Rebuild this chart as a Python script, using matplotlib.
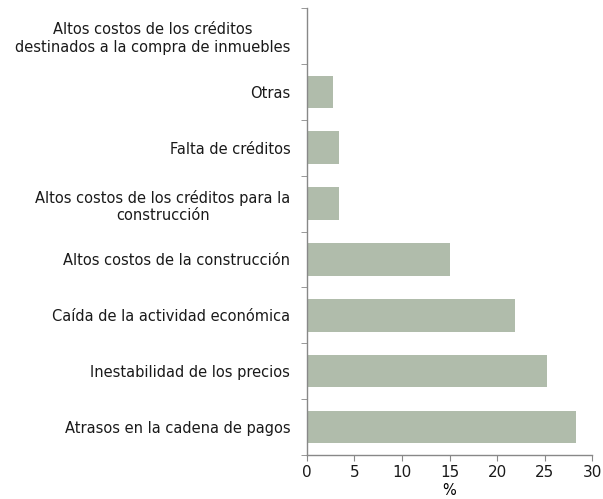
import matplotlib
matplotlib.use('Agg')
import matplotlib.pyplot as plt
import numpy as np

## data (bottom to top)
categorias = ['Atrasos en la cadena de pagos',
              'Inestabilidad de los precios',
              'Caída de la actividad económica',
              'Altos costos de la construcción',
              'Altos costos de los créditos para la\nconstrucción',
              'Falta de créditos',
              'Otras',
              'Altos costos de los créditos\ndestinados a la compra de inmuebles']
valores = [28.3, 25.3, 21.9, 15.1, 3.4, 3.4, 2.7, 0.0]
xticks = [0, 5, 10, 15, 20, 25, 30]

plt.rcParams['font.family'] = ['DejaVu Sans']
fig = plt.figure(figsize=(6.03, 4.99), dpi=100)
ax = fig.add_axes([0.509, 0.088, 0.473, 0.896])

y = np.arange(len(categorias))
ax.barh(y, valores, height=0.58, color='#b0bcab')

ax.set_xlim(0, 30)
ax.set_ylim(-0.5, len(categorias) - 0.5)
ax.set_xticks(xticks)
ax.set_xticklabels([str(t) for t in xticks], fontsize=11)
ax.set_xlabel('%', fontsize=10.5, labelpad=2)

ax.set_yticks(y)
ax.set_yticklabels(categorias, fontsize=10.5, ha='right', multialignment='center',
                   color='#1a1a1a')
ax.tick_params(axis='y', length=0, pad=12)
# minor ticks at category boundaries
ax.set_yticks(np.arange(-0.5, len(categorias), 1), minor=True)
ax.tick_params(axis='y', which='minor', length=4, color='#888888', direction='out')
ax.tick_params(axis='x', length=4, color='#888888', direction='out', pad=3,
               labelcolor='#1a1a1a')

for s in ['top', 'right']:
    ax.spines[s].set_visible(False)
for s in ['left', 'bottom']:
    ax.spines[s].set_color('#888888')
    ax.spines[s].set_linewidth(1)

fig.savefig('out.png', dpi=100)
